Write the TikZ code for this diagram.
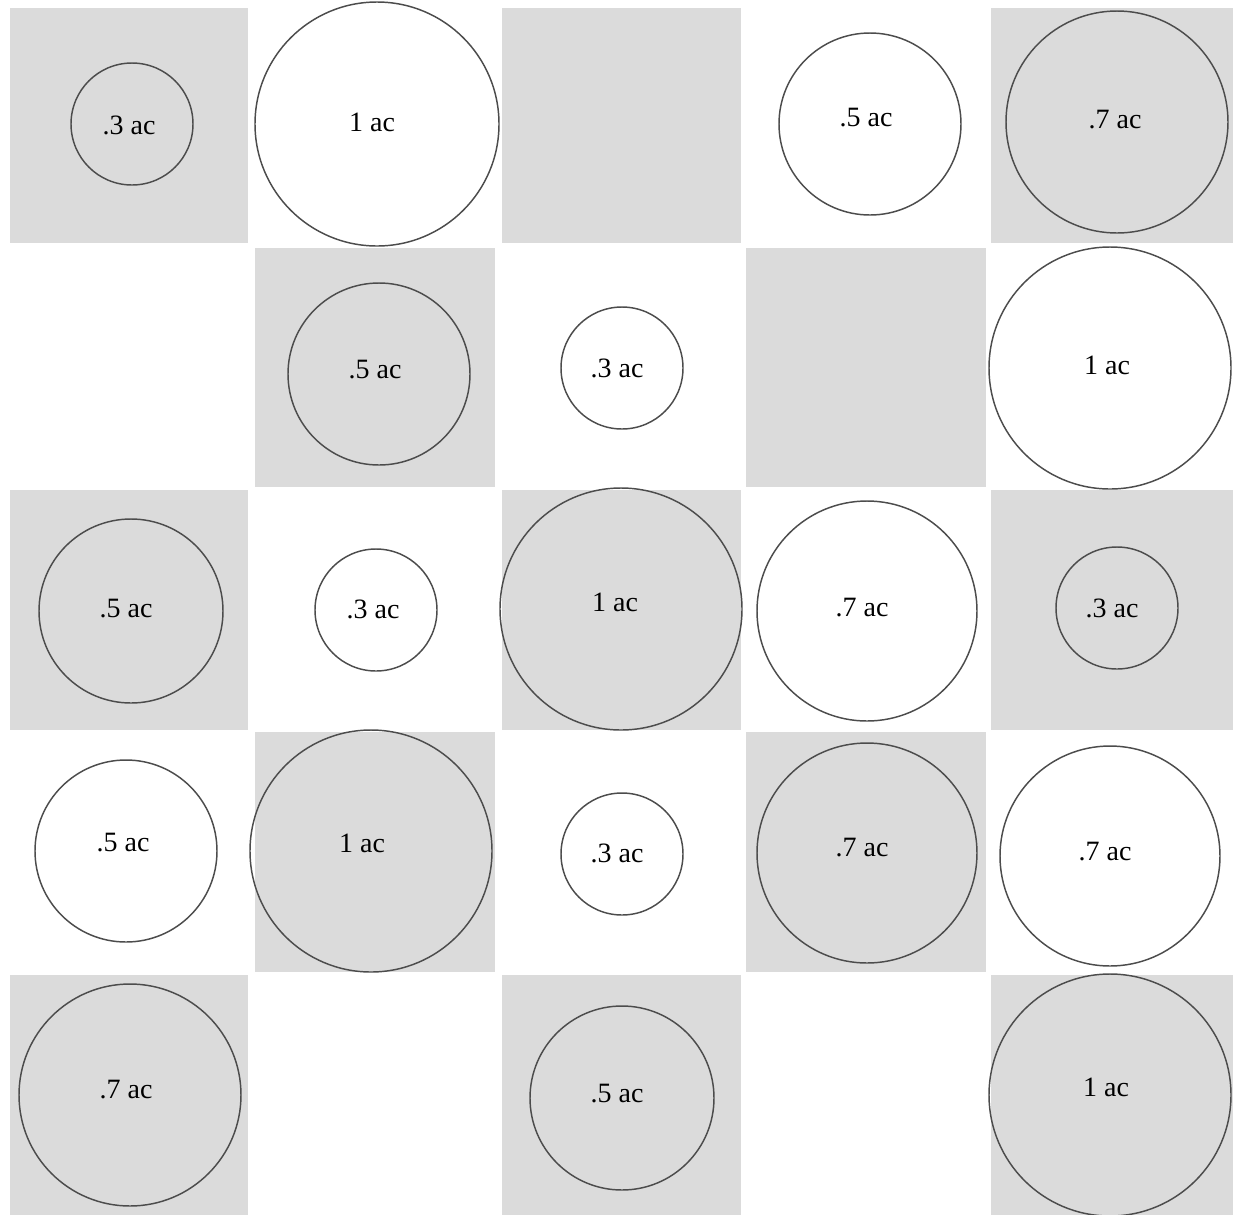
\documentclass[tikz,border=0pt]{standalone}
\usepackage{fontspec}
\setmainfont{Liberation Serif}
\begin{document}
\begin{tikzpicture}[x=0.75pt,y=-0.75pt,
  cellg/.style={fill=black!14},
  plot/.style={circle,draw=black!70,line width=1.1pt,inner sep=0pt,minimum size=#1*0.75pt},
  lab/.style={inner sep=0pt,font=\fontsize{21}{24}\selectfont}]
\useasboundingbox (0,0) rectangle (1233,1215);
\fill[white] (0,0) rectangle (1233,1215);
% gray cells (checkerboard)
\def\cx{{10,255,502,746,991}}
\def\cxr{{248,495,741,986,1233}}
\def\cy{{8,248,490,732,975}}
\def\cyb{{243,487,730,972,1215}}
\foreach \i in {0,...,4}{
  \foreach \j in {0,...,4}{
    \pgfmathtruncatemacro\myparity{mod(\i+\j,2)}
    \ifnum\myparity=0
      \pgfmathsetmacro\xa{\cx[\j]}
      \pgfmathsetmacro\xb{\cxr[\j]}
      \pgfmathsetmacro\ya{\cy[\i]}
      \pgfmathsetmacro\yb{\cyb[\i]}
      \fill[cellg] (\xa,\ya) rectangle (\xb,\yb);
    \fi
  }
}
% circles
\node[plot=122] (c00) at (132,124) {};
\node[plot=244] (c01) at (377,124) {};
\node[plot=182] (c03) at (870,124) {};
\node[plot=222] (c04) at (1117,122) {};
\node[plot=182] (c11) at (379,374) {};
\node[plot=122] (c12) at (622,368) {};
\node[plot=242] (c14) at (1110,368) {};
\node[plot=184] (c20) at (131,611) {};
\node[plot=122] (c21) at (376,610) {};
\node[plot=242] (c22) at (621,609) {};
\node[plot=220] (c23) at (867,611) {};
\node[plot=122] (c24) at (1117,608) {};
\node[plot=182] (c30) at (126,851) {};
\node[plot=242] (c31) at (371,851) {};
\node[plot=122] (c32) at (622,854) {};
\node[plot=220] (c33) at (867,853) {};
\node[plot=220] (c34) at (1110,856) {};
\node[plot=222] (c40) at (130,1095) {};
\node[plot=184] (c42) at (622,1098) {};
\node[plot=242] (c44) at (1110,1095) {};
% labels
\node[lab] (t00) at (129,125) {.3 ac};
\node[lab] (t01) at (372,122) {1 ac};
\node[lab] (t03) at (866,118) {.5 ac};
\node[lab] (t04) at (1115,120) {.7 ac};
\node[lab] (t11) at (375,370) {.5 ac};
\node[lab] (t12) at (617,368) {.3 ac};
\node[lab] (t14) at (1107,365) {1 ac};
\node[lab] (t20) at (126,609) {.5 ac};
\node[lab] (t21) at (373,609) {.3 ac};
\node[lab] (t22) at (615,602) {1 ac};
\node[lab] (t23) at (862,608) {.7 ac};
\node[lab] (t24) at (1112,608) {.3 ac};
\node[lab] (t30) at (123,843) {.5 ac};
\node[lab] (t31) at (362,843) {1 ac};
\node[lab] (t32) at (617,853) {.3 ac};
\node[lab] (t33) at (862,848) {.7 ac};
\node[lab] (t34) at (1105,852) {.7 ac};
\node[lab] (t40) at (126,1090) {.7 ac};
\node[lab] (t42) at (617,1094) {.5 ac};
\node[lab] (t44) at (1106,1087) {1 ac};
\end{tikzpicture}
\end{document}
